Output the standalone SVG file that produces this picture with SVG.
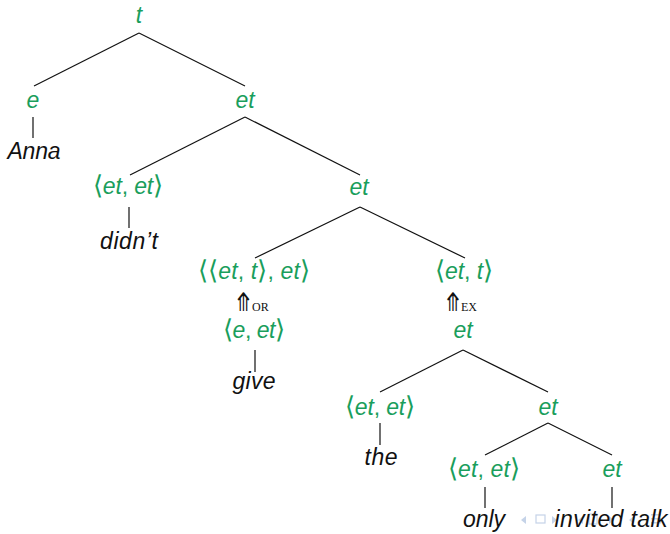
<svg xmlns="http://www.w3.org/2000/svg" width="670" height="534" viewBox="0 0 670 534">
<style>
.g{fill:#1a9e5c;font-family:"Liberation Sans","DejaVu Sans",sans-serif;font-size:23px;font-style:italic;text-anchor:middle}
.w{fill:#111;font-family:"Liberation Sans","DejaVu Sans",sans-serif;font-size:23px;font-style:italic;text-anchor:middle}
.u{font-style:normal;font-family:"DejaVu Sans",sans-serif;font-weight:200;font-size:26px}
.c{font-style:normal}
.ar{fill:#111;font-family:"DejaVu Sans",sans-serif;font-size:16px;text-anchor:middle}
.sc{fill:#111;font-family:"Liberation Serif",serif;font-size:12px}
.e{stroke:#111;stroke-width:1.2;fill:none}
.nav{fill:#c5d3e8;stroke:none}
</style>
<rect width="670" height="534" fill="#fff"/>
<g id="nav">
<polygon class="nav" points="526,516 526,524 521,520"/>
<rect x="536" y="515" width="9" height="8" fill="none" stroke="#c5d3e8" stroke-width="1.2"/>
<polygon class="nav" points="552,516 552,524 557,520"/>
<polygon class="nav" points="583,516 583,524 578,520"/>
<rect x="589" y="514" width="8" height="10" fill="none" stroke="#c5d3e8" stroke-width="1.2"/>
<polygon class="nav" points="609,516 609,524 614,520"/>
<polygon class="nav" points="634,516 634,524 629,520"/>
<rect x="651" y="514" width="10" height="1.5" class="nav"/>
<rect x="651" y="518" width="10" height="1.5" class="nav"/>
<rect x="651" y="522" width="10" height="1.5" class="nav"/>
</g>
<g id="connectors">
<line class="e" x1="139" y1="33" x2="34" y2="86"/>
<line class="e" x1="139" y1="33" x2="245" y2="86"/>
<line class="e" x1="33" y1="117" x2="33" y2="138"/>
<line class="e" x1="245" y1="117" x2="130" y2="175"/>
<line class="e" x1="245" y1="117" x2="360" y2="175"/>
<line class="e" x1="129" y1="207" x2="129" y2="228"/>
<line class="e" x1="360" y1="207" x2="255" y2="258"/>
<line class="e" x1="360" y1="207" x2="465" y2="258"/>
<line class="e" x1="255" y1="350" x2="255" y2="372"/>
<line class="e" x1="463" y1="350" x2="380" y2="392"/>
<line class="e" x1="463" y1="350" x2="548" y2="392"/>
<line class="e" x1="380" y1="423" x2="380" y2="445"/>
<line class="e" x1="548" y1="423" x2="485" y2="455"/>
<line class="e" x1="548" y1="423" x2="612" y2="455"/>
<line class="e" x1="485" y1="487" x2="485" y2="508"/>
<line class="e" x1="612" y1="487" x2="612" y2="508"/>
</g>
<g id="n-t"><text class="g" x="139" y="23">t</text></g>
<g id="n-e"><text class="g" x="33" y="108">e</text></g>
<g id="n-anna"><text class="w" x="34" y="159" textLength="53">Anna</text></g>
<g id="n-et1"><text class="g" x="245" y="108">et</text></g>
<g id="n-etet1"><text class="g" x="128" y="194" textLength="70"><tspan class="u">⟨</tspan>et<tspan class="c">,</tspan> et<tspan class="u">⟩</tspan></text></g>
<g id="n-didnt"><text class="w" x="129" y="249" textLength="58">didn’t</text></g>
<g id="n-et2"><text class="g" x="359" y="195">et</text></g>
<g id="n-etttet"><text class="g" x="254" y="279" textLength="112"><tspan class="u">⟨⟨</tspan>et<tspan class="c">,</tspan> t<tspan class="u">⟩</tspan><tspan class="c">,</tspan> et<tspan class="u">⟩</tspan></text></g>
<g id="n-or"><text class="ar" transform="translate(243.5,311) scale(1.25,1.6)">⤊</text><text class="sc" x="252" y="311">OR</text></g>
<g id="n-eet"><text class="g" x="254" y="338" textLength="62"><tspan class="u">⟨</tspan>e<tspan class="c">,</tspan> et<tspan class="u">⟩</tspan></text></g>
<g id="n-give"><text class="w" x="254" y="389" textLength="43">give</text></g>
<g id="n-ett"><text class="g" x="464" y="279" textLength="58"><tspan class="u">⟨</tspan>et<tspan class="c">,</tspan> t<tspan class="u">⟩</tspan></text></g>
<g id="n-ex"><text class="ar" transform="translate(453,311) scale(1.25,1.6)">⤊</text><text class="sc" x="461" y="311">EX</text></g>
<g id="n-et3"><text class="g" x="463" y="338">et</text></g>
<g id="n-etet2"><text class="g" x="380" y="415" textLength="70"><tspan class="u">⟨</tspan>et<tspan class="c">,</tspan> et<tspan class="u">⟩</tspan></text></g>
<g id="n-the"><text class="w" x="381" y="465" textLength="33">the</text></g>
<g id="n-et4"><text class="g" x="548" y="415">et</text></g>
<g id="n-etet3"><text class="g" x="484" y="477" textLength="72"><tspan class="u">⟨</tspan>et<tspan class="c">,</tspan> et<tspan class="u">⟩</tspan></text></g>
<g id="n-et5"><text class="g" x="612" y="477">et</text></g>
<g id="n-only"><text class="w" x="484" y="527" textLength="42">only</text></g>
<g id="n-invited"><text class="w" x="611" y="527" textLength="113">invited talk</text></g>
</svg>
